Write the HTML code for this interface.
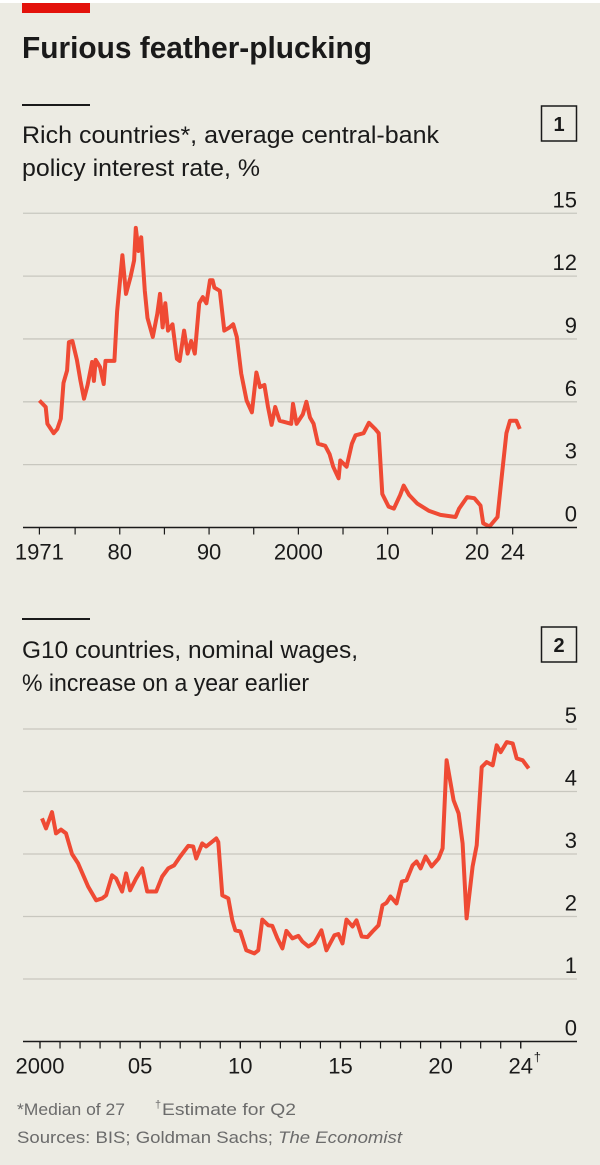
<!DOCTYPE html>
<html><head><meta charset="utf-8">
<style>
html,body{margin:0;padding:0;background:#fff;}
svg{display:block;}
text{font-family:"Liberation Sans",sans-serif;}
</style></head>
<body>
<svg id="chart" width="600" height="1165" viewBox="0 0 600 1165" xmlns="http://www.w3.org/2000/svg">
<rect x="0" y="3" width="600" height="1162" fill="#ecebe3"/>
<rect x="22" y="3" width="68" height="10" fill="#e3120b"/>
<text x="22" y="58" font-size="31" font-weight="bold" fill="#1a1a1a" textLength="350" lengthAdjust="spacingAndGlyphs">Furious feather-plucking</text>

<rect x="22" y="104" width="68" height="2" fill="#1a1a1a"/>
<text x="22" y="143" font-size="24" fill="#1a1a1a" textLength="417" lengthAdjust="spacingAndGlyphs">Rich countries*, average central-bank</text>
<text x="22" y="176" font-size="24" fill="#1a1a1a" textLength="238" lengthAdjust="spacingAndGlyphs">policy interest rate, %</text>
<rect x="541.5" y="106" width="35" height="35" fill="none" stroke="#1a1a1a" stroke-width="1.5"/>
<text x="559" y="131" font-size="20" font-weight="bold" text-anchor="middle" fill="#1a1a1a">1</text>
<g id="c1"></g>

<rect x="22" y="618" width="68" height="2" fill="#1a1a1a"/>
<text x="22" y="658" font-size="24" fill="#1a1a1a" textLength="336" lengthAdjust="spacingAndGlyphs">G10 countries, nominal wages,</text>
<text x="22" y="691" font-size="24" fill="#1a1a1a" textLength="287" lengthAdjust="spacingAndGlyphs">% increase on a year earlier</text>
<rect x="541.5" y="627" width="35" height="35" fill="none" stroke="#1a1a1a" stroke-width="1.5"/>
<text x="559" y="652" font-size="20" font-weight="bold" text-anchor="middle" fill="#1a1a1a">2</text>
<g id="c2"></g>

<text x="17" y="1115" font-size="17" fill="#6b6b6b" textLength="108" lengthAdjust="spacingAndGlyphs">*Median of 27</text>
<text x="155" y="1108" font-size="11" fill="#6b6b6b">†</text>
<text x="162" y="1115" font-size="17" fill="#6b6b6b" textLength="134" lengthAdjust="spacingAndGlyphs">Estimate for Q2</text>
<text x="17" y="1143" font-size="17" fill="#6b6b6b" textLength="385" lengthAdjust="spacingAndGlyphs">Sources: BIS; Goldman Sachs; <tspan font-style="italic">The Economist</tspan></text>
</svg>
<script>
// Panel 1 data
const c1Years = [1971.0,1971.7,1971.9,1972.6,1973.0,1973.4,1973.7,1974.1,1974.3,1974.7,1975.2,1975.6,1976.0,1976.4,1976.9,1977.1,1977.3,1977.8,1978.2,1978.4,1979.4,1979.7,1980.3,1980.7,1981.2,1981.6,1981.8,1982.1,1982.4,1982.8,1983.1,1983.7,1984.2,1984.5,1984.8,1985.1,1985.4,1985.9,1986.4,1986.7,1987.2,1987.6,1988.0,1988.4,1988.9,1989.3,1989.7,1990.1,1990.4,1990.6,1991.2,1991.7,1992.3,1992.7,1993.1,1993.6,1994.2,1994.8,1995.3,1995.7,1996.2,1996.6,1997.0,1997.4,1997.9,1999.2,1999.4,1999.8,2000.5,2000.9,2001.3,2001.7,2002.2,2003.0,2003.5,2003.9,2004.5,2004.7,2005.4,2006.0,2006.4,2007.3,2007.9,2008.6,2009.0,2009.4,2010.1,2010.7,2011.4,2011.8,2012.4,2013.3,2014.6,2015.9,2017.6,2018.0,2018.9,2019.7,2020.4,2020.7,2021.4,2022.3,2022.8,2023.3,2023.7,2024.4,2024.8];
const c1Rates = [6.06,5.75,4.95,4.5,4.7,5.2,6.9,7.5,8.85,8.9,8.0,7.0,6.15,6.8,7.9,7.0,8.0,7.65,6.85,7.95,7.95,10.3,13.0,11.15,11.95,12.75,14.3,13.2,13.85,11.3,10.0,9.1,10.2,11.15,9.55,10.7,9.4,9.7,8.05,7.95,9.4,8.3,8.9,8.3,10.7,11.0,10.7,11.8,11.8,11.45,11.3,9.4,9.55,9.7,9.1,7.35,6.06,5.5,7.4,6.7,6.8,5.75,4.9,5.75,5.1,4.95,5.9,4.95,5.4,6.0,5.25,4.95,4.0,3.9,3.5,2.9,2.35,3.2,2.9,4.0,4.4,4.5,5.0,4.7,4.5,1.6,1.0,0.9,1.55,2.0,1.55,1.15,0.8,0.6,0.5,0.9,1.45,1.4,1.05,0.2,0.05,0.5,2.55,4.5,5.1,5.1,4.7];
const c1YTicks = [0,3,6,9,12,15];
const c1XLabels = [[1971,"1971"],[1980,"80"],[1990,"90"],[2000,"2000"],[2010,"10"],[2020,"20"],[2024,"24"]];
const c1MinorTicks = [1975,1985,1995,2005,2015];

// Panel 2 data
const c2Years = [2000.1,2000.3,2000.6,2000.8,2001.05,2001.3,2001.6,2001.9,2002.4,2002.8,2003.1,2003.3,2003.6,2003.8,2004.1,2004.3,2004.5,2004.8,2005.1,2005.35,2005.8,2006.1,2006.4,2006.7,2007.0,2007.4,2007.65,2007.8,2008.1,2008.3,2008.8,2008.9,2009.1,2009.4,2009.6,2009.75,2010.0,2010.3,2010.7,2010.9,2011.1,2011.4,2011.6,2011.85,2012.1,2012.3,2012.6,2012.9,2013.1,2013.4,2013.7,2014.05,2014.3,2014.7,2014.9,2015.1,2015.3,2015.6,2015.8,2016.06,2016.35,2016.6,2016.9,2017.1,2017.3,2017.5,2017.8,2018.07,2018.3,2018.6,2018.8,2019.0,2019.25,2019.55,2019.9,2020.1,2020.3,2020.65,2020.9,2021.1,2021.3,2021.6,2021.8,2022.05,2022.3,2022.6,2022.8,2023.0,2023.3,2023.6,2023.8,2024.1,2024.4];
const c2Wages = [3.57,3.41,3.67,3.33,3.39,3.33,3.0,2.85,2.48,2.26,2.29,2.34,2.66,2.61,2.4,2.69,2.42,2.61,2.77,2.4,2.4,2.64,2.77,2.82,2.96,3.13,3.12,2.93,3.17,3.12,3.25,3.19,2.34,2.29,1.94,1.78,1.76,1.46,1.41,1.46,1.95,1.86,1.85,1.65,1.49,1.77,1.65,1.69,1.6,1.52,1.58,1.78,1.46,1.7,1.72,1.57,1.95,1.84,1.94,1.68,1.67,1.76,1.86,2.18,2.22,2.32,2.21,2.56,2.58,2.82,2.88,2.77,2.96,2.8,2.93,3.09,4.5,3.86,3.65,3.17,1.97,2.8,3.14,4.39,4.47,4.42,4.74,4.63,4.79,4.77,4.53,4.5,4.37];
const c2YTicks = [0,1,2,3,4,5];
const c2XLabels = [[2000,"2000"],[2005,"05"],[2010,"10"],[2015,"15"],[2020,"20"],[2024,"24"]];
const c2MinorStart = 2000, c2MinorEnd = 2024;

const NS = "http://www.w3.org/2000/svg";
function mk(tag, attrs, parent){const e=document.createElementNS(NS,tag);for(const k in attrs)e.setAttribute(k,attrs[k]);parent.appendChild(e);return e;}

function drawPanel(g, cfg){
  const xs = v => cfg.x0 + (v - cfg.xMin) * cfg.xScale;
  const ys = v => cfg.yBase - v * cfg.yScale;
  cfg.yTicks.forEach(t=>{
    if(t>0){
      const l = mk('line',{x1:23,x2:577,y1:ys(t),y2:ys(t),stroke:'#c8c7bf','stroke-width':1.3},g);
      
      
    }
    const tx = mk('text',{x:577,y:ys(t)-6,'font-size':22,'text-anchor':'end',fill:'#1a1a1a'},g);
    tx.textContent = t;
    
    
  });
  const pts = cfg.xv.map((x,i)=>xs(x).toFixed(1)+','+ys(cfg.yv[i]).toFixed(1)).join(' ');
  const pl = mk('polyline',{points:pts,fill:'none',stroke:'#ef4a34','stroke-width':4,'stroke-linejoin':'round','stroke-linecap':'butt'},g);
  
  
  const ax = mk('line',{x1:23,x2:577,y1:cfg.yBase,y2:cfg.yBase,stroke:'#1a1a1a','stroke-width':1.6},g);
  
  
  cfg.minor.forEach(m=>{
    const tk = mk('line',{x1:xs(m),x2:xs(m),y1:cfg.yBase,y2:cfg.yBase+7,stroke:'#1a1a1a','stroke-width':1.2},g);
    
    
  });
  cfg.labels.forEach(([v,s])=>{
    const tk = mk('line',{x1:xs(v),x2:xs(v),y1:cfg.yBase,y2:cfg.yBase+7,stroke:'#1a1a1a','stroke-width':1.2},g);
    
    
    const tx = mk('text',{x:xs(v),y:cfg.yBase+32,'font-size':22,'text-anchor':'middle',fill:'#1a1a1a'},g);
    tx.textContent = s;
    
    
    if(cfg.dagger && v===2024){
      const d = mk('text',{x:xs(v)+13,y:cfg.yBase+20,'font-size':13,fill:'#1a1a1a'},g);
      d.textContent='†';
      
      
    }
  });
}

const m2=[];for(let y=c2MinorStart;y<=c2MinorEnd;y++)m2.push(y);
drawPanel(document.getElementById('c1'),{x0:39.4,xMin:1971,xScale:8.93,yBase:527.5,yScale:20.95,xv:c1Years,yv:c1Rates,yTicks:c1YTicks,labels:c1XLabels,minor:c1MinorTicks});
drawPanel(document.getElementById('c2'),{x0:40,xMin:2000,xScale:20.03,yBase:1041.5,yScale:62.5,xv:c2Years,yv:c2Wages,yTicks:c2YTicks,labels:c2XLabels,minor:m2,dagger:true});
</script>
</body></html>
